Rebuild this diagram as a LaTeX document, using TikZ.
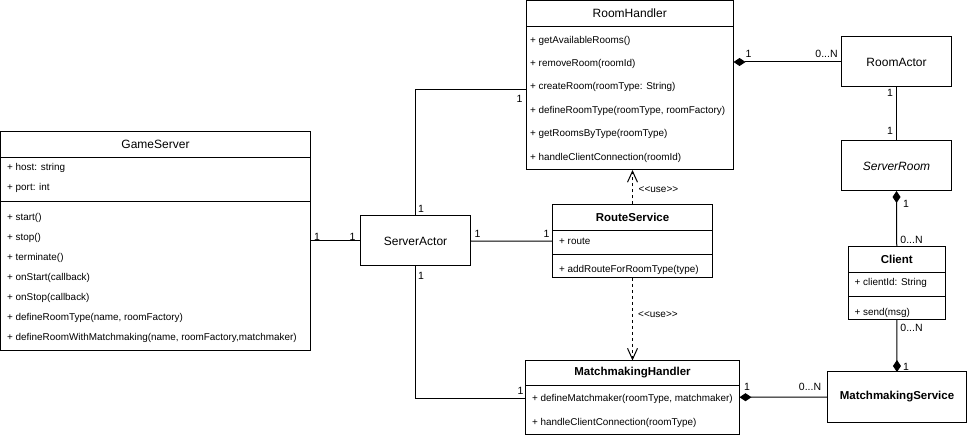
\documentclass[tikz,border=0pt]{standalone}
\usepackage{fontspec}
\setmainfont{Liberation Sans}
\usetikzlibrary{arrows.meta}
\tikzset{
  cls/.style={draw, line width=1pt, inner sep=0pt, outer sep=0pt},
  cname/.style={inner sep=0pt, font=\fontsize{12}{14}\selectfont},
  bname/.style={inner sep=0pt, font=\fontsize{11.5}{14}\selectfont\bfseries},
  mem/.style={anchor=west, inner sep=0pt, font=\fontsize{9.9}{11}\selectfont},
  mult/.style={inner sep=0pt, font=\fontsize{10.5}{12}\selectfont},
  assoc/.style={line width=1pt},
  comp/.style={line width=1pt, {Diamond[length=12pt,width=8pt]}-},
  uses/.style={line width=1pt, dashed, -{Straight Barb[length=11pt,width=10pt]}},
}
\newcommand{\stereo}[1]{\textless\kern0pt\textless\kern0pt#1\kern0pt\textgreater\kern0pt\textgreater}
\begin{document}
\begin{tikzpicture}[x=1pt, y=-1pt]
          \useasboundingbox (0,0) rectangle (967,438);
          % GameServer
          \node[cls, minimum width=310pt, minimum height=219pt] (gs) at (155.5,241) {};
          \node[cname] (gsname) at (155.5,144.5) {GameServer};
          \draw[line width=1pt] (0.5,157.5) -- (310.5,157.5);
          \draw[line width=1pt] (0.5,201.5) -- (310.5,201.5);
          \node[mem] (gsa1) at (7,168) {+ host: string};
          \node[mem] (gsa2) at (7,188) {+ port: int};
          \node[mem] (gsm1) at (7,218) {+ start()};
          \node[mem] (gsm2) at (7,238) {+ stop()};
          \node[mem] (gsm3) at (7,258) {+ terminate()};
          \node[mem] (gsm4) at (7,278) {+ onStart(callback)};
          \node[mem] (gsm5) at (7,298) {+ onStop(callback)};
          \node[mem] (gsm6) at (7,318) {+ defineRoomType(name, roomFactory)};
          \node[mem] (gsm7) at (7,338) {+ defineRoomWithMatchmaking(name, roomFactory,matchmaker)};
          % ServerActor
          \node[cls, minimum width=110pt, minimum height=50pt] (sa) at (415.5,241) {};
          \node[cname] (saname) at (415.5,241) {ServerActor};
          % RoomHandler
          \node[cls, minimum width=207.5pt, minimum height=169.5pt] (rh) at (629.75,85.25) {};
          \node[cname] (rhname) at (629.75,13.5) {RoomHandler};
          \draw[line width=1pt] (526,26.5) -- (733.5,26.5);
          \node[mem] (rhm1) at (530,40.5) {+ getAvailableRooms()};
          \node[mem] (rhm2) at (530,63.9) {+ removeRoom(roomId)};
          \node[mem] (rhm3) at (530,87.3) {+ createRoom(roomType: String)};
          \node[mem] (rhm4) at (530,110.7) {+ defineRoomType(roomType, roomFactory)};
          \node[mem] (rhm5) at (530,134.1) {+ getRoomsByType(roomType)};
          \node[mem] (rhm6) at (530,157.5) {+ handleClientConnection(roomId)};
          % RouteService
          \node[cls, minimum width=160pt, minimum height=73.5pt] (rs) at (632.5,241.25) {};
          \node[bname] (rsname) at (632.5,217.5) {RouteService};
          \draw[line width=1pt] (552.5,230.5) -- (712.5,230.5);
          \draw[line width=1pt] (552.5,254.5) -- (712.5,254.5);
          \node[mem] (rsa1) at (559,241.5) {+ route};
          \node[mem] (rsm1) at (559,269.5) {+ addRouteForRoomType(type)};
          % MatchmakingHandler
          \node[cls, minimum width=214pt, minimum height=73.5pt] (mh) at (632.5,397.25) {};
          \node[bname] (mhname) at (632.5,373) {MatchmakingHandler};
          \draw[line width=1pt] (525.5,386) -- (739.5,386);
          \node[mem] (mhm1) at (532,398.5) {+ defineMatchmaker(roomType, matchmaker)};
          \node[mem] (mhm2) at (532,422.5) {+ handleClientConnection(roomType)};
          % right column
          \node[cls, minimum width=110pt, minimum height=50pt] (ra) at (896.5,62) {};
          \node[cname] (raname) at (896.5,62) {RoomActor};
          \node[cls, minimum width=110pt, minimum height=50pt] (sr) at (896.5,166) {};
          \node[cname, font=\fontsize{12}{14}\selectfont\itshape] (srname) at (896.5,166) {ServerRoom};
          \node[cls, minimum width=96.5pt, minimum height=73.5pt] (cl) at (896.75,283.25) {};
          \node[bname] (clname) at (896.75,259.5) {Client};
          \draw[line width=1pt] (848.5,272.5) -- (945,272.5);
          \draw[line width=1pt] (848.5,296.5) -- (945,296.5);
          \node[mem] (cla1) at (854.5,283) {+ clientId: String};
          \node[mem] (clm1) at (854.5,313) {+ send(msg)};
          \node[cls, minimum width=139pt, minimum height=50pt] (ms) at (897,397) {};
          \node[bname] (msname) at (897,397) {MatchmakingService};
          % connectors
          \draw[assoc] (gs.east) -- (sa.west);
          \draw[assoc] (sa.north) |- ([yshift=-4.75pt]rh.west);
          \draw[assoc] (sa.east) -- (rs.west);
          \draw[assoc] (sa.south) |- ([yshift=-1pt]mh.west);
          \draw[uses] (rs.north) -- (rs.north |- rh.south);
          \draw[uses] (rs.south) -- (mh.north);
          \draw[comp] (ra.west -| rh.east) -- (ra.west);
          \draw[assoc] (ra.south) -- (sr.north);
          \draw[comp] (sr.south) -- (cl.north);
          \draw[comp] (ms.north) -- (cl.south);
          \draw[comp] (mh.east) -- (ms.west);
          % multiplicities
          \node[mult] (m1) at (317,236.5) {1};
          \node[mult] (m2) at (352.5,236.5) {1};
          \node[mult] (m3) at (421,209) {1};
          \node[mult] (m4) at (519.5,99) {1};
          \node[mult] (m5) at (477.5,234) {1};
          \node[mult] (m6) at (546.5,234) {1};
          \node[mult] (m7) at (421,276) {1};
          \node[mult] (m8) at (520.5,391) {1};
          \node[mult] (m9) at (748.5,53.5) {1};
          \node[mult] (m10) at (826.5,53.5) {0...N};
          \node[mult] (m11) at (890,93) {1};
          \node[mult] (m12) at (890,131) {1};
          \node[mult] (m13) at (906,204) {1};
          \node[mult] (m14) at (911.5,240) {0...N};
          \node[mult] (m15) at (911.5,328) {0...N};
          \node[mult] (m16) at (906,367) {1};
          \node[mult] (m17) at (747,387) {1};
          \node[mult] (m18) at (810,387) {0...N};
          \node[mem, font=\fontsize{10}{12}\selectfont] (use1) at (638.5,190) {\stereo{use}};
          \node[mem, font=\fontsize{10}{12}\selectfont] (use2) at (638,314.5) {\stereo{use}};
        \end{tikzpicture}
\end{document}
